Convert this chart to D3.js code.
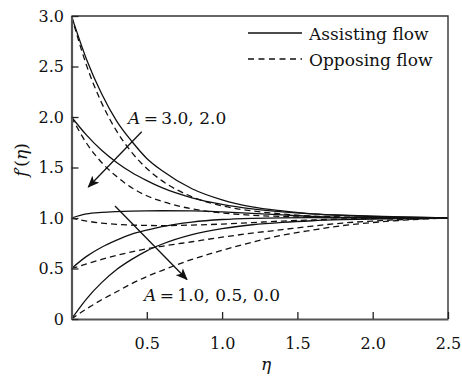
<!DOCTYPE html>
<html>
<head>
<meta charset="utf-8">
<script src="https://cdn.jsdelivr.net/npm/d3@7"></script>
<style>
  body { margin: 0; background: #fff; }
  text { font-family: "DejaVu Serif", serif; fill: #111; }
</style>
</head>
<body>
<div id="chart"></div>
<script>
var svgWidth = 462;
var svgHeight = 378;

// eta sample points
var eta = [0, 0.1, 0.2, 0.3, 0.4, 0.5, 0.6, 0.8, 1.0, 1.2, 1.4, 1.6, 1.8, 2.0, 2.2, 2.5];

// assisting flow (solid)
var assistA3  = [3.0, 2.57, 2.23, 1.96, 1.76, 1.59, 1.47, 1.29, 1.18, 1.11, 1.07, 1.04, 1.025, 1.015, 1.008, 1.0];
var assistA2  = [2.0, 1.82, 1.67, 1.55, 1.45, 1.37, 1.30, 1.20, 1.135, 1.09, 1.06, 1.04, 1.027, 1.018, 1.01, 1.0];
var assistA1  = [1.0, 1.04, 1.055, 1.063, 1.068, 1.071, 1.072, 1.07, 1.06, 1.045, 1.03, 1.015, 1.007, 1.003, 1.001, 1.0];
var assistA05 = [0.5, 0.62, 0.71, 0.78, 0.84, 0.88, 0.915, 0.96, 0.985, 0.997, 1.002, 1.003, 1.002, 1.001, 1.0, 1.0];
var assistA0  = [0.0, 0.20, 0.36, 0.49, 0.59, 0.675, 0.74, 0.835, 0.895, 0.933, 0.957, 0.973, 0.983, 0.99, 0.995, 1.0];

// opposing flow (dashed)
var opposeA3  = [3.0, 2.51, 2.14, 1.86, 1.65, 1.49, 1.37, 1.21, 1.12, 1.07, 1.04, 1.02, 1.01, 1.005, 1.002, 1.0];
var opposeA2  = [2.0, 1.74, 1.55, 1.41, 1.30, 1.22, 1.165, 1.09, 1.05, 1.027, 1.015, 1.008, 1.004, 1.002, 1.001, 1.0];
var opposeA1  = [1.0, 0.97, 0.95, 0.937, 0.93, 0.926, 0.925, 0.93, 0.94, 0.955, 0.97, 0.98, 0.99, 0.995, 0.998, 1.0];
var opposeA05 = [0.5, 0.545, 0.59, 0.63, 0.665, 0.695, 0.72, 0.765, 0.81, 0.85, 0.885, 0.92, 0.95, 0.97, 0.985, 1.0];
var opposeA0  = [0.0, 0.10, 0.19, 0.27, 0.35, 0.42, 0.48, 0.59, 0.68, 0.76, 0.83, 0.88, 0.925, 0.955, 0.978, 1.0];

var xTicks = [0.5, 1.0, 1.5, 2.0, 2.5];
var yTicks = [0, 0.5, 1.0, 1.5, 2.0, 2.5, 3.0];
var legendLabels = ["Assisting flow", "Opposing flow"];

var solidSeries = [assistA3, assistA2, assistA1, assistA05, assistA0];
var dashedSeries = [opposeA3, opposeA2, opposeA1, opposeA05, opposeA0];

var svg = d3.select("#chart")
  .append("svg")
  .attr("width", svgWidth)
  .attr("height", svgHeight);

var x = d3.scaleLinear().domain([0, 2.5]).range([71.5, 448]);
var y = d3.scaleLinear().domain([0, 3]).range([319, 16]);

// arrow marker
var defs = svg.append("defs");
defs.append("marker")
  .attr("id", "head")
  .attr("viewBox", "0 0 12 10")
  .attr("refX", 11)
  .attr("refY", 5)
  .attr("markerWidth", 12)
  .attr("markerHeight", 10)
  .attr("markerUnits", "userSpaceOnUse")
  .attr("orient", "auto")
  .append("path")
  .attr("d", "M0,0 L12,5 L0,10 L3,5 Z")
  .attr("fill", "#111");

defs.append("clipPath").attr("id", "plotClip")
  .append("rect")
  .attr("x", x(0)).attr("y", y(3))
  .attr("width", x(2.5) - x(0)).attr("height", y(0) - y(3));

// curves
var line = d3.line()
  .x(function(d, i) { return x(eta[i]); })
  .y(function(d) { return y(d); })
  .curve(d3.curveMonotoneX);

var curves = svg.append("g").attr("clip-path", "url(#plotClip)");

curves.selectAll(".solid")
  .data(solidSeries)
  .enter().append("path")
  .attr("class", "solid")
  .attr("d", line)
  .attr("fill", "none")
  .attr("stroke", "#111")
  .attr("stroke-width", 1.3);

curves.selectAll(".dashed")
  .data(dashedSeries)
  .enter().append("path")
  .attr("class", "dashed")
  .attr("d", line)
  .attr("fill", "none")
  .attr("stroke", "#111")
  .attr("stroke-width", 1.3)
  .attr("stroke-dasharray", "6,4");

// frame (top / right)
svg.append("path")
  .attr("d", "M" + x(0) + "," + y(3) + "H" + x(2.5) + "V" + y(0))
  .attr("fill", "none")
  .attr("stroke", "#333")
  .attr("stroke-width", 1.4);

// axes, ticks pointing inward
var bottomAxis = d3.axisBottom(x)
  .tickValues(xTicks)
  .tickSizeInner(-7)
  .tickSizeOuter(0)
  .tickPadding(18.5)
  .tickFormat(d3.format(".1f"));

var leftAxis = d3.axisLeft(y)
  .tickValues(yTicks)
  .tickSizeInner(-7)
  .tickSizeOuter(0)
  .tickPadding(7.5)
  .tickFormat(function(d) { return d === 0 ? "0" : d3.format(".1f")(d); });

var xAxisG = svg.append("g")
  .attr("transform", "translate(0," + y(0) + ")")
  .call(bottomAxis);

var yAxisG = svg.append("g")
  .attr("transform", "translate(" + x(0) + ",0)")
  .call(leftAxis);

[xAxisG, yAxisG].forEach(function(g) {
  g.select(".domain").attr("stroke", "#555").attr("stroke-width", 2.2);
  g.selectAll(".tick line").attr("stroke", "#222").attr("stroke-width", 1.3);
  g.selectAll(".tick text")
    .style("font-family", "'DejaVu Serif', serif")
    .style("font-size", "16px")
    .attr("fill", "#111");
});

// axis titles
var yTitle = svg.append("text")
  .attr("transform", "translate(27,160) rotate(-90)")
  .attr("text-anchor", "middle")
  .style("font-size", "17px");
yTitle.append("tspan").style("font-style", "italic").text("f");
yTitle.append("tspan").text("\u2032(");
yTitle.append("tspan").style("font-style", "italic").text("\u03b7");
yTitle.append("tspan").text(")");

svg.append("text")
  .attr("x", 266)
  .attr("y", 370)
  .attr("text-anchor", "middle")
  .style("font-size", "17px")
  .style("font-style", "italic")
  .text("\u03b7");

// legend
var legend = svg.append("g");
legendLabels.forEach(function(lab, i) {
  var ly = 33 + i * 26;
  legend.append("line")
    .attr("x1", 248).attr("x2", 302)
    .attr("y1", ly).attr("y2", ly)
    .attr("stroke", "#111")
    .attr("stroke-width", 1.3)
    .attr("stroke-dasharray", i === 1 ? "6,4.5" : null);
  legend.append("text")
    .attr("x", 309)
    .attr("y", ly + 6.5)
    .style("font-size", "17px")
    .text(lab);
});

// annotations
function annot(px, py, values) {
  var t = svg.append("text")
    .attr("x", px).attr("y", py)
    .style("font-size", "17px");
  t.append("tspan").style("font-style", "italic").text("A");
  t.append("tspan").text("\u2009=\u2009" + values);
}
annot(128, 124, "3.0, 2.0");
annot(144, 301, "1.0, 0.5, 0.0");

svg.append("line")
  .attr("x1", 141.7).attr("y1", 131.7)
  .attr("x2", 88.3).attr("y2", 187)
  .attr("stroke", "#111").attr("stroke-width", 1.3)
  .attr("marker-end", "url(#head)");

svg.append("line")
  .attr("x1", 115).attr("y1", 206)
  .attr("x2", 187).attr("y2", 279.5)
  .attr("stroke", "#111").attr("stroke-width", 1.3)
  .attr("marker-end", "url(#head)");
</script>
</body>
</html>
